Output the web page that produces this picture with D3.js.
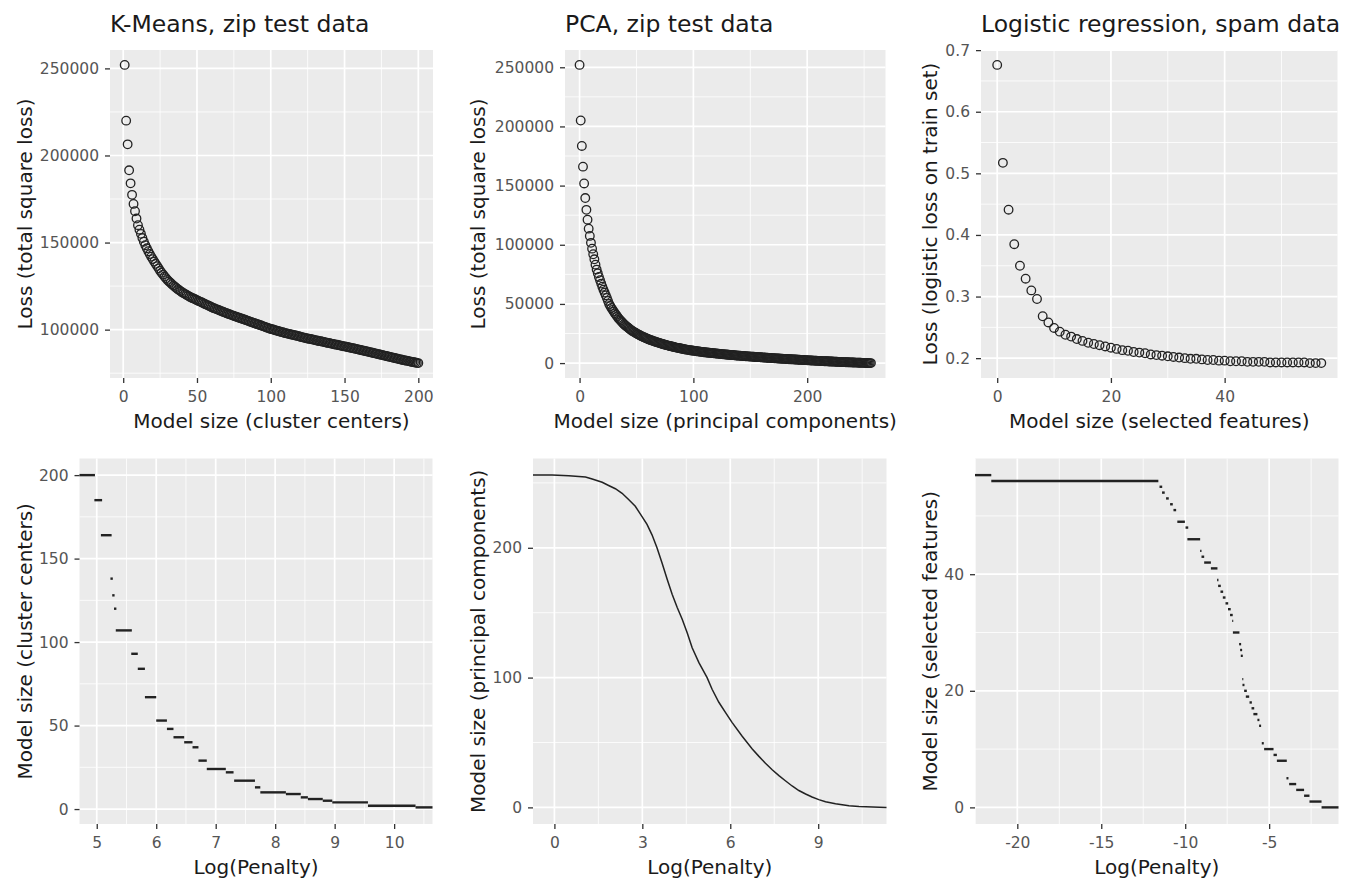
<!DOCTYPE html>
<html>
<head>
<meta charset="utf-8">
<script src="https://cdn.jsdelivr.net/npm/d3@7"></script>
<style>
  body { margin: 0; background: #fff; }
  svg { display: block; }
  text { font-family: "DejaVu Sans", sans-serif; }
</style>
</head>
<body>
<div id="chart"></div>
<script>
// ---- data ----

// K-means on zip test data: total square loss (in thousands) for 1..200 cluster centers
var kmLoss = [252.0,220.0,206.4,191.5,184.0,177.4,172.2,168.0,163.8,160.0,
  157.4,155.0,152.6,150.5,148.5,146.7,145.0,143.4,141.9,140.5,
  139.1,137.8,136.5,135.2,133.8,132.7,131.6,130.5,129.5,128.5,
  127.7,126.9,126.1,125.3,124.6,123.9,123.2,122.6,122.0,121.4,
  120.9,120.4,119.9,119.4,118.9,118.5,118.1,117.7,117.3,116.9,
  116.5,116.1,115.7,115.3,114.9,114.5,114.1,113.7,113.3,112.9,
  112.5,112.2,111.8,111.5,111.1,110.8,110.4,110.1,109.8,109.4,
  109.1,108.8,108.5,108.2,107.9,107.6,107.3,107.0,106.7,106.4,
  106.1,105.8,105.5,105.2,104.9,104.6,104.3,104.0,103.7,103.4,
  103.1,102.8,102.5,102.2,101.9,101.6,101.3,101.0,100.7,100.4,
  100.2,99.9,99.7,99.4,99.2,98.9,98.7,98.5,98.2,98.0,
  97.8,97.6,97.4,97.2,97.0,96.8,96.6,96.4,96.2,95.9,
  95.7,95.5,95.3,95.1,94.9,94.7,94.6,94.4,94.2,94.0,
  93.8,93.6,93.4,93.3,93.1,92.9,92.7,92.5,92.4,92.2,
  92.0,91.8,91.6,91.4,91.3,91.1,90.9,90.7,90.5,90.4,
  90.2,90.0,89.8,89.6,89.4,89.3,89.1,88.9,88.7,88.5,
  88.3,88.1,87.9,87.7,87.5,87.3,87.1,86.9,86.7,86.5,
  86.3,86.1,85.9,85.7,85.5,85.3,85.1,84.9,84.7,84.5,
  84.3,84.1,83.9,83.7,83.5,83.3,83.1,82.9,82.7,82.5,
  82.3,82.2,82.0,81.8,81.6,81.4,81.3,81.1,80.9,80.8];
var kmFirstSize = 1;

// PCA on zip test data: total square loss (in thousands) for 0..256 principal components
var pcaLoss = [252.0,205.0,183.5,166.0,151.8,139.5,129.5,121.2,113.6,107.5,101.6,
  96.7,92.0,87.7,83.2,79.0,75.9,72.8,70.0,67.2,64.5,
  62.0,59.6,57.3,55.1,52.5,50.0,48.2,46.6,45.0,43.5,
  42.1,40.8,39.5,38.2,37.0,35.9,34.9,33.9,32.9,32.0,
  31.2,30.4,29.6,28.8,28.1,27.4,26.8,26.2,25.6,25.0,
  24.5,24.0,23.5,23.0,22.5,22.0,21.6,21.2,20.8,20.4,
  20.0,19.6,19.3,18.9,18.6,18.2,17.9,17.6,17.3,17.0,
  16.7,16.4,16.1,15.8,15.5,15.3,15.0,14.8,14.5,14.3,
  14.0,13.8,13.6,13.3,13.1,12.9,12.7,12.5,12.3,12.1,
  11.9,11.7,11.5,11.4,11.2,11.0,10.9,10.7,10.6,10.5,
  10.3,10.2,10.0,9.9,9.8,9.6,9.5,9.4,9.2,9.1,
  9.0,8.9,8.8,8.7,8.6,8.5,8.4,8.3,8.2,8.1,
  8.0,7.9,7.8,7.7,7.6,7.5,7.4,7.3,7.2,7.1,
  7.0,6.9,6.8,6.8,6.7,6.6,6.5,6.4,6.3,6.3,
  6.2,6.1,6.0,6.0,5.9,5.8,5.7,5.7,5.6,5.5,
  5.5,5.4,5.3,5.2,5.2,5.1,5.0,5.0,4.9,4.8,
  4.8,4.7,4.6,4.6,4.5,4.4,4.4,4.3,4.2,4.2,
  4.1,4.0,4.0,3.9,3.9,3.8,3.7,3.7,3.6,3.6,
  3.5,3.4,3.4,3.3,3.3,3.2,3.1,3.1,3.0,3.0,
  2.9,2.8,2.8,2.7,2.7,2.6,2.6,2.5,2.5,2.4,
  2.3,2.3,2.2,2.2,2.1,2.1,2.0,2.0,1.9,1.9,
  1.8,1.8,1.7,1.7,1.6,1.6,1.5,1.5,1.4,1.4,
  1.3,1.3,1.2,1.2,1.1,1.1,1.0,1.0,0.9,0.9,
  0.8,0.8,0.8,0.7,0.7,0.7,0.6,0.6,0.6,0.5,
  0.5,0.4,0.4,0.4,0.3,0.3,0.3,0.2,0.2,0.2,
  0.1,0.1,0.1,0.0,0.0,0.0];
var pcaFirstSize = 0;

// Logistic regression on spam data: logistic loss on train set for 0..57 selected features
var lrLoss = [0.676,0.517,0.441,0.385,0.350,0.329,0.310,0.296,0.268,0.258,
  0.249,0.243,0.238,0.235,0.231,0.228,0.225,0.223,0.221,0.219,
  0.217,0.215,0.213,0.212,0.210,0.209,0.208,0.206,0.205,0.204,
  0.203,0.202,0.201,0.200,0.199,0.199,0.198,0.197,0.197,0.196,
  0.196,0.195,0.195,0.195,0.194,0.194,0.194,0.194,0.193,0.193,
  0.193,0.193,0.193,0.193,0.193,0.192,0.192,0.192];
var lrFirstSize = 0;

// selected model size over log(penalty): [from, to, size]
var kmPath = [[4.71,4.97,200],[4.96,5.09,185],[5.07,5.25,164],[5.23,5.27,138],
  [5.26,5.30,128],[5.29,5.33,120],[5.32,5.59,107],[5.58,5.69,93],[5.69,5.81,84],
  [5.81,6.00,67],[6.00,6.18,53],[6.18,6.29,48],[6.29,6.47,43],[6.47,6.61,40],
  [6.61,6.71,37],[6.71,6.85,29],[6.85,7.17,24],[7.17,7.30,22],[7.31,7.66,17],
  [7.66,7.75,13],[7.75,8.18,10],[8.18,8.43,9],[8.43,8.55,7],[8.55,8.80,6],
  [8.80,8.96,5],[8.96,9.56,4],[9.56,10.36,2],[10.36,10.645,1]];
var kmPenaltyRange = [4.71, 10.645];

var pcaPenalty = [-0.73,-0.08,0.49,1.06,1.29,1.63,1.85,2.08,2.31,2.54,2.76,2.99,3.16,
  3.33,3.50,3.67,3.85,4.02,4.19,4.36,4.53,4.70,4.93,5.21,5.38,5.61,5.84,6.06,6.40,
  6.75,6.97,7.20,7.43,7.66,7.88,8.11,8.34,8.57,8.79,9.02,9.25,9.59,10.05,10.39,11.33];
var pcaSize = [256,256,255.5,254.5,253,250.5,248,245.5,242,237,232,224,218,
  210,200,188.5,175.5,164,154,145,134.5,123,111.5,100,91,81,73,65.5,55,
  45,39.5,34,29,24.5,20.5,16.5,13,10.3,8,6,4.3,2.8,1.3,0.6,0];
var pcaPenaltyRange = [-0.73, 11.33];

var lrPath = [[-22.52,-21.55,57],[-21.55,-11.6,56],[-11.53,-11.37,55],[-11.38,-11.22,54],
  [-11.14,-10.98,53],[-10.90,-10.74,52],[-10.70,-10.54,51],[-10.47,-10.02,49],
  [-9.98,-9.82,48],[-9.87,-9.11,46],[-9.11,-9.03,44],[-9.03,-8.87,43],[-8.87,-8.47,42],
  [-8.47,-8.08,41],[-8.10,-8.02,39],[-8.04,-7.88,38],[-7.90,-7.74,37],[-7.76,-7.60,36],
  [-7.60,-7.44,35],[-7.45,-7.29,34],[-7.33,-7.17,33],[-7.20,-7.14,32],[-7.16,-6.77,30],
  [-6.79,-6.67,28],[-6.73,-6.61,27],[-6.69,-6.57,26],[-6.60,-6.54,22],[-6.59,-6.47,21],
  [-6.49,-6.33,20],[-6.39,-6.19,19],[-6.17,-6.03,18],[-6.05,-5.89,17],[-5.94,-5.70,16],
  [-5.70,-5.58,15],[-5.60,-5.48,14],[-5.44,-5.32,11],[-5.30,-4.74,10],[-4.74,-4.54,9],
  [-4.54,-3.95,8],[-3.97,-3.85,5],[-3.81,-3.39,4],[-3.39,-2.92,3],[-2.92,-2.60,2],
  [-2.60,-1.88,1],[-1.88,-0.87,0]];
var lrPenaltyRange = [-22.52, -0.87];

// ---- drawing ----
var svg = d3.select("#chart").append("svg")
    .attr("width", 1356)
    .attr("height", 883);

// ggplot-like 5% expansion of a data range
function expand(ext) {
    var d = (ext[1] - ext[0]) * 0.05;
    return [ext[0] - d, ext[1] + d];
}

function panel(o) {
    var w = o.right - o.left,
        h = o.bottom - o.top;
    var g = svg.append("g")
        .attr("transform", "translate(" + o.left + "," + o.top + ")");
    var x = d3.scaleLinear().domain(o.xDomain).range([0, w]);
    var y = d3.scaleLinear().domain(o.yDomain).range([h, 0]);

    g.append("rect").attr("width", w).attr("height", h).attr("fill", "#ebebeb");

    // grid
    g.selectAll(".xminor").data(o.xMinor).enter().append("line")
        .attr("x1", d => x(d)).attr("x2", d => x(d)).attr("y1", 0).attr("y2", h)
        .attr("stroke", "#fff").attr("stroke-width", 0.8);
    g.selectAll(".yminor").data(o.yMinor).enter().append("line")
        .attr("y1", d => y(d)).attr("y2", d => y(d)).attr("x1", 0).attr("x2", w)
        .attr("stroke", "#fff").attr("stroke-width", 0.8);
    g.selectAll(".xmajor").data(o.xTicks).enter().append("line")
        .attr("x1", d => x(d)).attr("x2", d => x(d)).attr("y1", 0).attr("y2", h)
        .attr("stroke", "#fff").attr("stroke-width", 1.7);
    g.selectAll(".ymajor").data(o.yTicks).enter().append("line")
        .attr("y1", d => y(d)).attr("y2", d => y(d)).attr("x1", 0).attr("x2", w)
        .attr("stroke", "#fff").attr("stroke-width", 1.7);

    // axes
    var xa = g.append("g")
        .attr("transform", "translate(0," + h + ")")
        .call(d3.axisBottom(x).tickValues(o.xTicks).tickSize(5).tickPadding(8)
            .tickFormat(d => String(d)));
    var ya = g.append("g")
        .call(d3.axisLeft(y).tickValues(o.yTicks).tickSize(5).tickPadding(6)
            .tickFormat(o.yFormat || (d => String(d))));
    [xa, ya].forEach(function(a) {
        a.select(".domain").remove();
        a.attr("font-family", "DejaVu Sans").attr("font-size", 15.5);
        a.selectAll("line").attr("stroke", "#333").attr("stroke-width", 1.3);
        a.selectAll("text").attr("fill", "#555");
    });

    // titles
    if (o.title) {
        svg.append("text")
            .attr("x", o.left).attr("y", 31.5)
            .attr("font-size", 23.5).attr("fill", "#1a1a1a")
            .text(o.title);
    }
    svg.append("text")
        .attr("x", o.left + w / 2).attr("y", o.bottom + 49.5)
        .attr("text-anchor", "middle")
        .attr("font-size", 20).attr("fill", "#1a1a1a")
        .text(o.xTitle);
    svg.append("text")
        .attr("transform", "translate(" + o.yTitleX + "," + (o.top + h / 2) + ") rotate(-90)")
        .attr("text-anchor", "middle")
        .attr("font-size", 20).attr("fill", "#1a1a1a")
        .text(o.yTitle);

    return { g: g, x: x, y: y };
}

function drawCircles(p, values, first, mult) {
    p.g.selectAll("circle.pt").data(values).enter().append("circle")
        .attr("class", "pt")
        .attr("cx", (d, i) => p.x(i + first))
        .attr("cy", d => p.y(d * mult))
        .attr("r", 4.3)
        .attr("fill", "none")
        .attr("stroke", "#222")
        .attr("stroke-width", 1.3);
}

function drawPath(p, segs) {
    p.g.selectAll("line.seg").data(segs).enter().append("line")
        .attr("class", "seg")
        .attr("x1", d => p.x(d[0]))
        .attr("x2", d => p.x(d[1]))
        .attr("y1", d => p.y(d[2]))
        .attr("y2", d => p.y(d[2]))
        .attr("stroke", "#222")
        .attr("stroke-width", 2.4);
}

var fmtInt = d3.format("d"),
    fmt1 = d3.format(".1f");

// top row
var p1 = panel({
    left: 110, right: 433, top: 50, bottom: 378,
    xDomain: expand([kmFirstSize, kmFirstSize + kmLoss.length - 1]),
    yDomain: expand(d3.extent(kmLoss)).map(d => d * 1000),
    xTicks: [0, 50, 100, 150, 200], xMinor: [25, 75, 125, 175],
    yTicks: [100000, 150000, 200000, 250000], yMinor: [75000, 125000, 175000, 225000],
    yFormat: fmtInt,
    title: "K-Means, zip test data",
    xTitle: "Model size (cluster centers)",
    yTitle: "Loss (total square loss)", yTitleX: 32
});
drawCircles(p1, kmLoss, kmFirstSize, 1000);

var p2 = panel({
    left: 565, right: 885.5, top: 50, bottom: 378,
    xDomain: expand([pcaFirstSize, pcaFirstSize + pcaLoss.length - 1]),
    yDomain: expand(d3.extent(pcaLoss)).map(d => d * 1000),
    xTicks: [0, 100, 200], xMinor: [50, 150, 250],
    yTicks: [0, 50000, 100000, 150000, 200000, 250000],
    yMinor: [25000, 75000, 125000, 175000, 225000],
    yFormat: fmtInt,
    title: "PCA, zip test data",
    xTitle: "Model size (principal components)",
    yTitle: "Loss (total square loss)", yTitleX: 484.5
});
drawCircles(p2, pcaLoss, pcaFirstSize, 1000);

var p3 = panel({
    left: 981, right: 1337.5, top: 50, bottom: 378,
    xDomain: expand([lrFirstSize, lrFirstSize + lrLoss.length - 1]),
    yDomain: expand(d3.extent(lrLoss)),
    xTicks: [0, 20, 40], xMinor: [10, 30, 50],
    yTicks: [0.2, 0.3, 0.4, 0.5, 0.6, 0.7], yMinor: [0.25, 0.35, 0.45, 0.55, 0.65],
    yFormat: fmt1,
    title: "Logistic regression, spam data",
    xTitle: "Model size (selected features)",
    yTitle: "Loss (logistic loss on train set)", yTitleX: 936.5
});
drawCircles(p3, lrLoss, lrFirstSize, 1);

// bottom row
var p4 = panel({
    left: 79.5, right: 432.5, top: 458.5, bottom: 824,
    xDomain: kmPenaltyRange,
    yDomain: expand([kmFirstSize, kmFirstSize + kmLoss.length - 1]),
    xTicks: [5, 6, 7, 8, 9, 10], xMinor: [5.5, 6.5, 7.5, 8.5, 9.5, 10.5],
    yTicks: [0, 50, 100, 150, 200], yMinor: [25, 75, 125, 175],
    xTitle: "Log(Penalty)",
    yTitle: "Model size (cluster centers)", yTitleX: 32
});
drawPath(p4, kmPath);

var p5 = panel({
    left: 533, right: 886.5, top: 458.5, bottom: 824,
    xDomain: pcaPenaltyRange,
    yDomain: expand([pcaFirstSize, pcaFirstSize + pcaLoss.length - 1]),
    xTicks: [0, 3, 6, 9], xMinor: [1.5, 4.5, 7.5, 10.5],
    yTicks: [0, 100, 200], yMinor: [50, 150, 250],
    xTitle: "Log(Penalty)",
    yTitle: "Model size (principal components)", yTitleX: 484.5
});
var pcaLine = d3.line()
    .x((d, i) => p5.x(pcaPenalty[i]))
    .y(d => p5.y(d));
p5.g.append("path")
    .datum(pcaSize)
    .attr("d", pcaLine)
    .attr("fill", "none")
    .attr("stroke", "#222")
    .attr("stroke-width", 1.5);

var p6 = panel({
    left: 975, right: 1338.5, top: 458.5, bottom: 824,
    xDomain: lrPenaltyRange,
    yDomain: expand([lrFirstSize, lrFirstSize + lrLoss.length - 1]),
    xTicks: [-20, -15, -10, -5], xMinor: [-22.5, -17.5, -12.5, -7.5, -2.5],
    yTicks: [0, 20, 40], yMinor: [10, 30, 50],
    xTitle: "Log(Penalty)",
    yTitle: "Model size (selected features)", yTitleX: 936.5
});
drawPath(p6, lrPath);
</script>
</body>
</html>
